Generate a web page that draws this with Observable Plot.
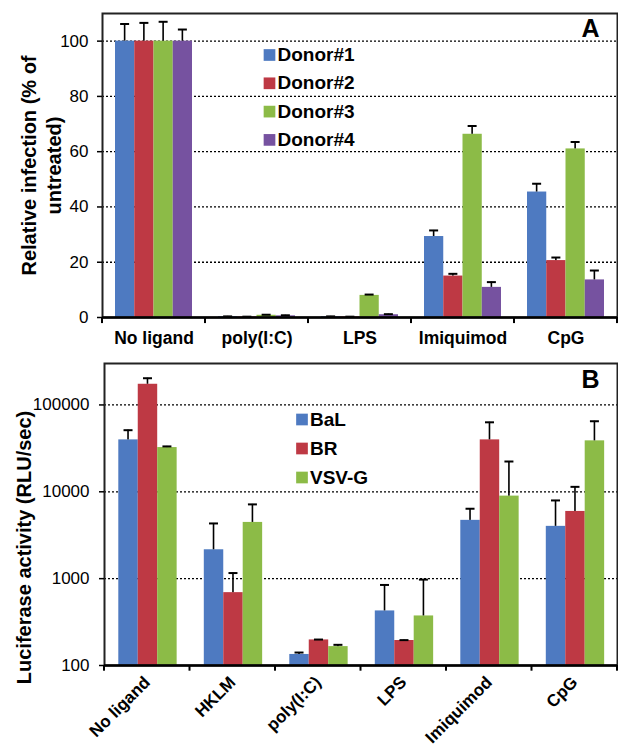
<!DOCTYPE html>
<html><head><meta charset="utf-8">
<script src="https://cdn.jsdelivr.net/npm/d3@7"></script>
<script src="https://cdn.jsdelivr.net/npm/@observablehq/plot@0.6"></script>
<style>
body{margin:0;background:#fff;font-family:"Liberation Sans",Arial,sans-serif}
svg{display:block}
</style>
</head><body>
<div id="a"></div><div id="b"></div>
<script>
// ---------- Panel A data ----------
const catsA = ["No ligand", "poly(I:C)", "LPS", "Imiquimod", "CpG"];
const donors = ["Donor#1", "Donor#2", "Donor#3", "Donor#4"];
const donor1 = [100, 0.3, 0.3, 29.3, 45.4];
const donor2 = [100, 0.2, 0.2, 15.0, 20.6];
const donor3 = [100, 0.8, 8.0, 66.3, 61.0];
const donor4 = [100, 0.6, 1.0, 10.9, 13.6];
const donor1Err = [6.2, 0.1, 0.1, 2.2, 3.0];
const donor2Err = [6.6, 0.1, 0.1, 0.8, 1.1];
const donor3Err = [7.0, 0.2, 0.3, 3.0, 2.5];
const donor4Err = [4.2, 0.2, 0.2, 1.9, 3.4];
const yTicksA = [0, 20, 40, 60, 80, 100];

// ---------- Panel B data ----------
const catsB = ["No ligand", "HKLM", "poly(I:C)", "LPS", "Imiquimod", "CpG"];
const viruses = ["BaL", "BR", "VSV-G"];
const bal = [39600, 2150, 134, 425, 4690, 4000];
const br = [173000, 690, 197, 194, 39600, 5940];
const vsvg = [32300, 4440, 165, 372, 8920, 38600];
const balErr = [11600, 2170, 7, 421, 1690, 3950];
const brErr = [30000, 470, 2, 2, 23500, 5460];
const vsvgErr = [1000, 2720, 8, 603, 13400, 26300];
const yTicksB = [100, 1000, 10000, 100000];

const colorsA = ["#4e7ac1", "#be3944", "#8cbb47", "#7652a0"];
const colorsB = ["#4e7ac1", "#be3944", "#8cbb47"];

const font = "'Liberation Sans', Arial, sans-serif";

function groupMarks({cats, series, vals, errs, colors, step, outer, bw, base}) {
  const marks = [];
  series.forEach((s, i) => {
    const rows = cats.map((c, j) => ({cat: c, series: s, value: vals[i][j], err: errs[i][j]}));
    const left = outer + i * bw, right = step - outer - (i + 1) * bw;
    const mid = outer + (i + 0.5) * bw;
    marks.push(Plot.barY(rows, {x: "cat", y1: base, y2: "value", fill: colors[i], insetLeft: left, insetRight: right}));
    marks.push(Plot.barY(rows, {x: "cat", y1: "value", y2: d => d.value + d.err, fill: "#000", insetLeft: mid - 0.8, insetRight: step - mid - 0.8}));
    marks.push(Plot.tickY(rows, {x: "cat", y: d => d.value + d.err, stroke: "#000", strokeWidth: 2, insetLeft: mid - 4.5, insetRight: step - mid - 4.5}));
  });
  return marks;
}

function boundaryTicks(cats, step, y1, y2) {
  return [
    Plot.barY(cats, {x: d => d, y1, y2, fill: "#000", insetLeft: -1, insetRight: step - 1}),
    Plot.barY(cats.slice(-1), {x: d => d, y1, y2, fill: "#000", insetLeft: step - 1, insetRight: -1})
  ];
}

function legendMarks(series, colors, dx0, dy0, gap) {
  const marks = [];
  series.forEach((s, i) => {
    marks.push(Plot.dot([s], {frameAnchor: "top-left", dx: dx0, dy: dy0 + i * gap, symbol: "square", r: 6.6, fill: colors[i], stroke: "none"}));
    marks.push(Plot.text([s], {frameAnchor: "top-left", dx: dx0 + 8, dy: dy0 + i * gap, text: d => d, textAnchor: "start", lineAnchor: "middle", fontSize: 19, fontWeight: "bold", fill: "#000"}));
  });
  return marks;
}

// ---------- Panel A ----------
const WA = 618, mLA = 102, mRA = 1;
const stepA = (WA - mLA - mRA) / catsA.length;
const plotA = Plot.plot({
  width: WA, height: 350,
  marginLeft: mLA, marginRight: mRA, marginTop: 13, marginBottom: 33,
  style: {fontFamily: font, fontSize: "17px", color: "#000", background: "#fff"},
  x: {domain: catsA, padding: 0, round: false, label: null},
  y: {domain: [0, 110], label: null},
  marks: [
    Plot.gridY(yTicksA.slice(1), {stroke: "#000", strokeOpacity: 1, strokeWidth: 1.3, strokeDasharray: "2,2"}),
    ...groupMarks({cats: catsA, series: donors, vals: [donor1, donor2, donor3, donor4], errs: [donor1Err, donor2Err, donor3Err, donor4Err], colors: colorsA, step: stepA, outer: 13, bw: 19.25, base: 0}),
    Plot.frame({stroke: "#222", strokeWidth: 2}),
    Plot.ruleY([0], {stroke: "#000", strokeWidth: 2.4}),
    ...boundaryTicks(catsA, stepA, 0, -2.2),
    Plot.axisY({ticks: yTicksA, tickSize: 5, tickPadding: 9, fontSize: 17, label: null, stroke: "#000", strokeWidth: 1.5}),
    Plot.axisX({tickSize: 0, tickPadding: 14, fontSize: 17.5, fontWeight: "bold", label: null}),
    ...legendMarks(donors, colorsA, 167, 41.5, 28.3),
    Plot.text(["A"], {frameAnchor: "top-right", dx: -27, dy: 15, text: d => d, textAnchor: "middle", lineAnchor: "middle", fontSize: 25, fontWeight: "bold", fill: "#000"}),
    Plot.text(["Relative infection (% of\nuntreated)"], {frameAnchor: "left", dx: -62, dy: 0, text: d => d, rotate: -90, textAnchor: "middle", lineAnchor: "middle", fontSize: 20, fontWeight: "bold", lineHeight: 1.27, fill: "#000"})
  ]
});
document.getElementById("a").appendChild(plotA);

// ---------- Panel B ----------
const WB = 618, mLB = 104, mRB = 1;
const stepB = (WB - mLB - mRB) / catsB.length;
const plotB = Plot.plot({
  width: WB, height: 403,
  marginLeft: mLB, marginRight: mRB, marginTop: 13, marginBottom: 88,
  style: {fontFamily: font, fontSize: "17px", color: "#000", background: "#fff"},
  x: {domain: catsB, padding: 0, round: false, label: null},
  y: {type: "log", domain: [100, 300000], label: null},
  marks: [
    Plot.gridY(yTicksB.slice(1), {stroke: "#000", strokeOpacity: 1, strokeWidth: 1.3, strokeDasharray: "2,2"}),
    ...groupMarks({cats: catsB, series: viruses, vals: [bal, br, vsvg], errs: [balErr, brErr, vsvgErr], colors: colorsB, step: stepB, outer: 14.3, bw: 19.45, base: 100}),
    Plot.frame({stroke: "#222", strokeWidth: 2}),
    Plot.ruleY([100], {stroke: "#000", strokeWidth: 2.4}),
    ...boundaryTicks(catsB, stepB, 100, 86),
    Plot.axisY({ticks: yTicksB, tickFormat: d => String(d), tickSize: 5, tickPadding: 10, fontSize: 17, label: null, stroke: "#000", strokeWidth: 1.5}),
    Plot.axisX({tickSize: 0, tickPadding: 14, tickRotate: -45, fontSize: 17, fontWeight: "bold", label: null}),
    ...legendMarks(viruses, colorsB, 197.5, 56, 29),
    Plot.text(["B"], {frameAnchor: "top-right", dx: -27, dy: 16, text: d => d, textAnchor: "middle", lineAnchor: "middle", fontSize: 25, fontWeight: "bold", fill: "#000"}),
    Plot.text(["Luciferase activity (RLU/sec)"], {frameAnchor: "left", dx: -80, dy: 33, text: d => d, rotate: -90, textAnchor: "middle", lineAnchor: "middle", fontSize: 20, fontWeight: "bold", fill: "#000"})
  ]
});
document.getElementById("b").appendChild(plotB);
</script>
</body></html>
